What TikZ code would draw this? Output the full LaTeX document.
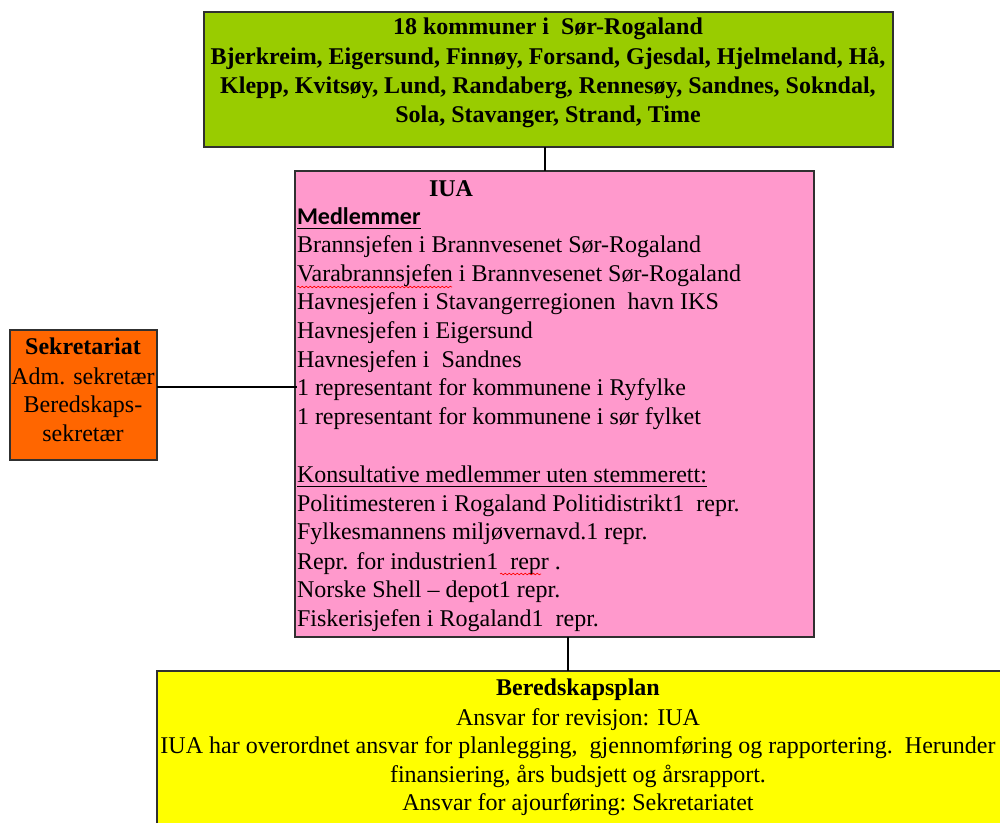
\documentclass[tikz,border=0pt]{standalone}
\usepackage{fontspec}
\setmainfont{Liberation Serif}
\newfontfamily\tnr[Ligatures=TeX]{Liberation Serif}
\newfontfamily\calib{Carlito}
\usetikzlibrary{decorations.pathmorphing}
\definecolor{greenfill}{HTML}{99CC00}
\definecolor{pinkfill}{HTML}{FF99CC}
\definecolor{orangefill}{HTML}{FF6600}
\definecolor{yellowfill}{HTML}{FFFF00}
\definecolor{edge}{HTML}{303030}
\tikzset{
  box/.style={draw=edge, line width=0.9pt, inner sep=0pt, outer sep=0pt},
  conn/.style={draw=black, line width=0.9pt},
  txt/.style={inner sep=0pt, outer sep=0pt, font=\fontsize{18}{21}\tnr},
  btxt/.style={inner sep=0pt, outer sep=0pt, font=\fontsize{18}{21}\tnr\bfseries},
  ctxt/.style={txt, anchor=base},
  cbtxt/.style={btxt, anchor=base},
  ltxt/.style={txt, anchor=base west},
  spell/.style={draw=red, line width=0.5pt, decorate, decoration={snake, amplitude=0.6pt, segment length=3pt}}
}
\begin{document}
\begin{tikzpicture}[x=0.75pt, y=-0.75pt]
\useasboundingbox (0,0) rectangle (1000,823);
\begin{scope}
\clip (0,0) rectangle (1000,823);
\path[box, fill=greenfill] (204,12) rectangle (893,147);
\path[box, fill=pinkfill] (295,171) rectangle (814,637);
\path[box, fill=orangefill] (10,330) rectangle (157,460);
\path[box, fill=yellowfill] (157,671) rectangle (1010,830);
\end{scope}
% named box nodes
\node[inner sep=0pt, minimum width=689*0.75pt, minimum height=135*0.75pt] (green) at (548.5,79.5) {};
\node[inner sep=0pt, minimum width=519*0.75pt, minimum height=466*0.75pt] (iua) at (554.5,404) {};
\node[inner sep=0pt, minimum width=147*0.75pt, minimum height=130*0.75pt] (sek) at (83.5,395) {};
\node[inner sep=0pt, minimum width=853*0.75pt, minimum height=152*0.75pt] (plan) at (583.5,747) {};
% connectors
\coordinate (g1) at (545,147); \coordinate (i1) at (545,171);
\draw[conn] (g1) -- (i1);
\coordinate (s1) at (157,387); \coordinate (i2) at (297,387);
\draw[conn] (s1) -- (i2);
\coordinate (i3) at (568,637); \coordinate (p1) at (568,671);
\draw[conn] (i3) -- (p1);
% green text
\node[cbtxt] (g-l1) at (548,35) {18 kommuner i\ \ Sør-Rogaland};
\node[cbtxt] (g-l2) at (548,65) {Bjerkreim, Eigersund, Finnøy, Forsand, Gjesdal, Hjelmeland, Hå,};
\node[cbtxt] (g-l3) at (548,94) {Klepp, Kvitsøy, Lund, Randaberg, Rennesøy, Sandnes, Sokndal,};
\node[cbtxt] (g-l4) at (548,123) {Sola, Stavanger, Strand, Time};
% orange text
\node[cbtxt] (s-l1) at (83,355) {Sekretariat};
\node[ctxt] (s-l2) at (83,385) {Adm. sekretær};
\node[ctxt] (s-l3) at (83,413) {Beredskaps-};
\node[ctxt] (s-l4) at (83,442) {sekretær};
% pink text
\node[cbtxt] (i-t) at (451,197) {IUA};
\node[ltxt, font=\fontsize{18}{21}\calib\bfseries] (i-m) at (297,225) {Medlemmer};
\draw[line width=0.8pt] ([yshift=-2.6pt]i-m.base west) -- ([yshift=-2.6pt]i-m.base east);
\node[ltxt] (i-1) at (297,253) {Brannsjefen i Brannvesenet Sør-Rogaland};
\node[ltxt] (i-2) at (297,282) {Varabrannsjefen i Brannvesenet Sør-Rogaland};
\node[ltxt] (i-3) at (297,310) {Havnesjefen i Stavangerregionen\ \ havn IKS};
\node[ltxt] (i-4) at (297,339) {Havnesjefen i Eigersund};
\node[ltxt] (i-5) at (297,368) {Havnesjefen i\ \ Sandnes};
\node[ltxt] (i-6) at (297,396) {1 representant for kommunene i Ryfylke};
\node[ltxt] (i-7) at (297,425) {1 representant for kommunene i sør fylket};
\node[ltxt] (i-k) at (297,483) {Konsultative medlemmer uten stemmerett:};
\draw[line width=0.8pt] ([yshift=-2.6pt]i-k.base west) -- ([yshift=-2.6pt]i-k.base east);
\node[ltxt] (i-8) at (297,512) {Politimesteren i Rogaland Politidistrikt1\ \ repr.};
\node[ltxt] (i-9) at (297,540) {Fylkesmannens miljøvernavd.1 repr.};
\node[ltxt] (i-10) at (297,569) {Repr. for industrien1\ \ repr\ .};
\node[ltxt] (i-11) at (297,597) {Norske Shell – depot1 repr.};
\node[ltxt] (i-12) at (297,626) {Fiskerisjefen i Rogaland1\ \ repr.};
% spell marks
\coordinate (sp1a) at (297,287); \coordinate (sp1b) at (452,287);
\draw[spell] (sp1a) -- (sp1b);
\coordinate (sp2a) at (500,574); \coordinate (sp2b) at (541,574);
\draw[spell] (sp2a) -- (sp2b);
% yellow text
\node[cbtxt] (p-l1) at (578,695) {Beredskapsplan};
\node[ctxt] (p-l2) at (578,725) {Ansvar for revisjon: IUA};
\node[ctxt] (p-l3) at (578,753) {IUA har overordnet ansvar for planlegging,\ \ gjennomføring\ og rapportering.\ \ Herunder};
\node[ctxt] (p-l4) at (578,782) {finansiering,\ års budsjett og årsrapport.};
\node[ctxt] (p-l5) at (578,810) {Ansvar for ajourføring:\ Sekretariatet};
\end{tikzpicture}
\end{document}
